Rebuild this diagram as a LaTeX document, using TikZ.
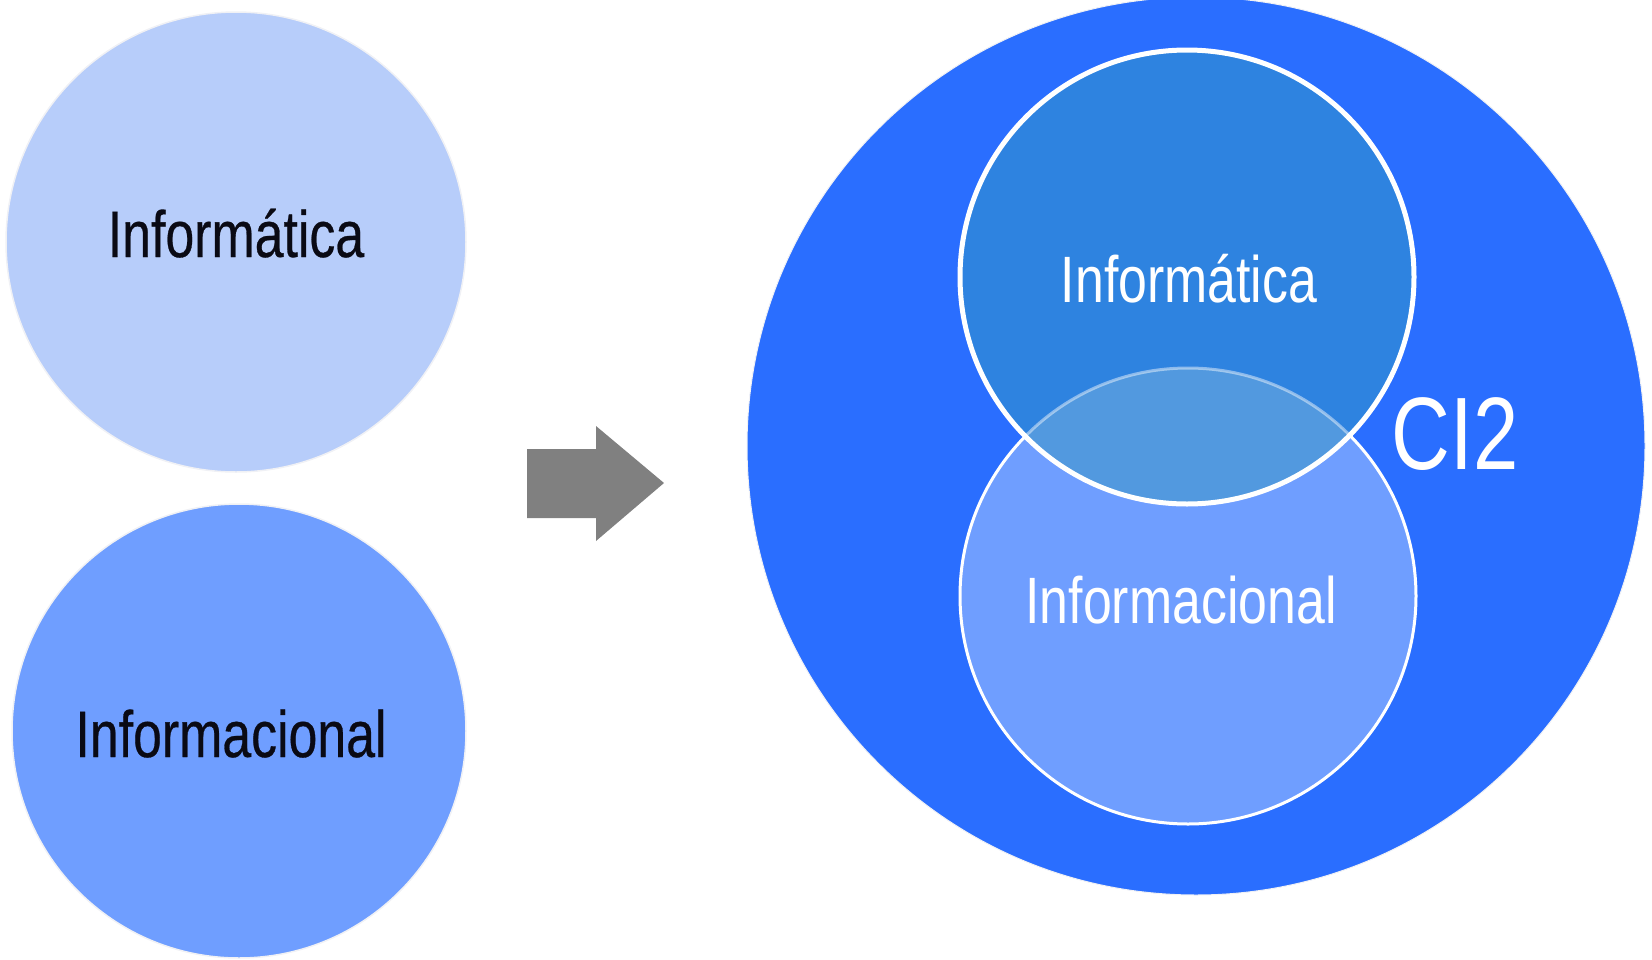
\documentclass[tikz,border=0pt]{standalone}
\usepackage{fontspec}
\setmainfont{Liberation Sans}
\newfontfamily\heavyface[FakeBold=0.5]{Liberation Sans}
\usepackage{graphicx}
\definecolor{bigblue}{HTML}{2A6EFF}
\definecolor{topblue}{HTML}{2E83E0}
\definecolor{ovlblue}{HTML}{5299DF}
\definecolor{lowblue}{HTML}{6F9EFF}
\definecolor{paleblue}{HTML}{B7CDFA}
\definecolor{rimgray}{HTML}{F0F1F5}
\definecolor{arrowgray}{HTML}{808080}
\definecolor{inkblack}{HTML}{0A0A14}
\tikzset{
  lbl/.style={anchor=base, inner sep=0pt, font=\fontsize{65.6}{70}\selectfont},
  dlbl/.style={anchor=base, inner sep=0pt, text=inkblack, font=\heavyface\fontsize{65.6}{70}\selectfont},
  bigl/.style={anchor=base, inner sep=0pt, font=\fontsize{103}{110}\selectfont},
}
\newcommand{\nrw}[1]{\scalebox{0.79}[1]{#1}}
\begin{document}
\begin{tikzpicture}[x=1pt,y=-1pt]
\useasboundingbox (0,0) rectangle (1652,959);
% left circles
\node[circle, draw=rimgray, line width=1.5pt, fill=paleblue, minimum size=460pt, inner sep=0pt] (lt) at (236,242) {};
\node[circle, draw=rimgray, line width=1.5pt, fill=lowblue, minimum size=454pt, inner sep=0pt] (lb) at (239,731) {};
\node[dlbl] (ltt) at (236,257) {\nrw{Informática}};
\node[dlbl] (lbt) at (231,757) {\nrw{Informacional}};
% arrow
\fill[arrowgray] (527,449) -- (596,449) -- (596,426) -- (664,483) -- (596,541) -- (596,518) -- (527,518) -- cycle;
% big circle
\node[circle, draw=rimgray, line width=1pt, fill=bigblue, minimum size=898pt, inner sep=0pt] (big) at (1196,446) {};
% lower inner circle
\node[circle, draw=white, line width=3pt, fill=lowblue, minimum size=456pt, inner sep=0pt] (rb) at (1188,596) {};
% upper inner circle fill
\fill[topblue] (1187,277) circle (227pt);
% overlap
\begin{scope}
  \clip (1187,277) circle (227pt);
  \fill[ovlblue] (1188,596) circle (228pt);
  \draw[white, opacity=0.45, line width=3pt] (1188,596) circle (228pt);
\end{scope}
\node[circle, draw=white, line width=5pt, minimum size=454pt, inner sep=0pt] (rt) at (1187,277) {};
% labels
\node[lbl, text=white] (rtt) at (1189,302) {\nrw{Informática}};
\node[lbl, text=white] (rbt) at (1181,623) {\nrw{Informacional}};
\node[bigl, text=white] (ci) at (1455,469) {\nrw{CI2}};
\end{tikzpicture}
\end{document}
